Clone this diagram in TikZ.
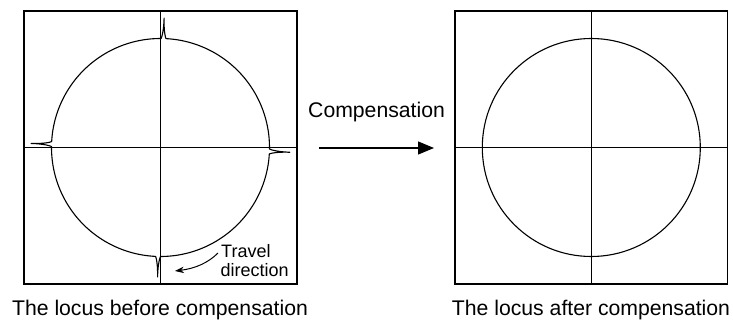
\documentclass[tikz,border=0pt]{standalone}
\usepackage{fontspec}
\setmainfont{Liberation Sans}
\usetikzlibrary{arrows.meta}
\begin{document}
\begin{tikzpicture}[x=1pt,y=-1pt,
  frame/.style={line width=1.2pt,black},
  axis/.style={line width=1.2pt,black},
  locus/.style={line width=1.1pt,black,line join=round},
  caption/.style={font=\fontsize{21.2}{25}\selectfont,anchor=base,inner sep=0pt},
  smalltxt/.style={font=\fontsize{18}{21}\selectfont,anchor=base west,inner sep=0pt}]
\useasboundingbox (0,0) rectangle (733,320);
% ---------- left panel ----------
\draw[frame] (24,11) rectangle (297,284);
\draw[axis] (160.7,11) -- (160.7,284);
\draw[axis] (24,147.3) -- (297,147.3);
\begin{scope}[shift={(160.5,147.5)}]
  \def\R{109}
  \def\T{129.5}
  \draw[locus]
    (272.9:\R) -- plot[domain=272.9:360.8,samples=60] (\x:\R)
    .. controls (361.1:110) and (362.1:116) .. (362.1:\T)
    .. controls (362.1:116) and (363.1:110) .. (363.4:\R)
    -- plot[domain=363.4:450,samples=60] (\x:\R)
    .. controls (450.3:110) and (451.3:116) .. (451.3:\T)
    .. controls (451.3:116) and (452.3:110) .. (452.6:\R)
    -- plot[domain=452.6:540.5,samples=60] (\x:\R)
    .. controls (540.8:110) and (541.8:116) .. (541.8:\T)
    .. controls (541.8:116) and (542.8:110) .. (543.1:\R)
    -- plot[domain=543.1:630.3,samples=60] (\x:\R)
    .. controls (630.6:110) and (631.6:116) .. (631.6:\T)
    .. controls (631.6:116) and (632.6:110) .. (632.9:\R);
\end{scope}
\node[smalltxt] (travel) at (221,258) {Travel};
\node[smalltxt] (direction) at (220.5,276.5) {direction};
\coordinate (tdstart) at (218,253);
\coordinate (tdend) at (175,271);
\draw[line width=1pt,-{Stealth[length=9pt,width=6.5pt]}] (tdstart) .. controls (208,263) and (195,268.5) .. (tdend);
\node[caption] (capL) at (160,315) {The locus before compensation};
% ---------- middle ----------
\node[caption,anchor=base west] (comp) at (308,118) {Compensation};
\coordinate (arrS) at (319,148);
\coordinate (arrE) at (434,148);
\draw[line width=1.1pt,-{Triangle[length=16pt,width=13pt]}] (arrS) -- (arrE);
% ---------- right panel ----------
\draw[frame] (455,11) rectangle (727.7,284);
\draw[axis] (591.5,11) -- (591.5,284);
\draw[axis] (455,147.3) -- (727.7,147.3);
\draw[locus] (591.3,147.5) circle[radius=109];
\node[caption] (capR) at (591,315) {The locus after compensation};
\end{tikzpicture}
\end{document}
